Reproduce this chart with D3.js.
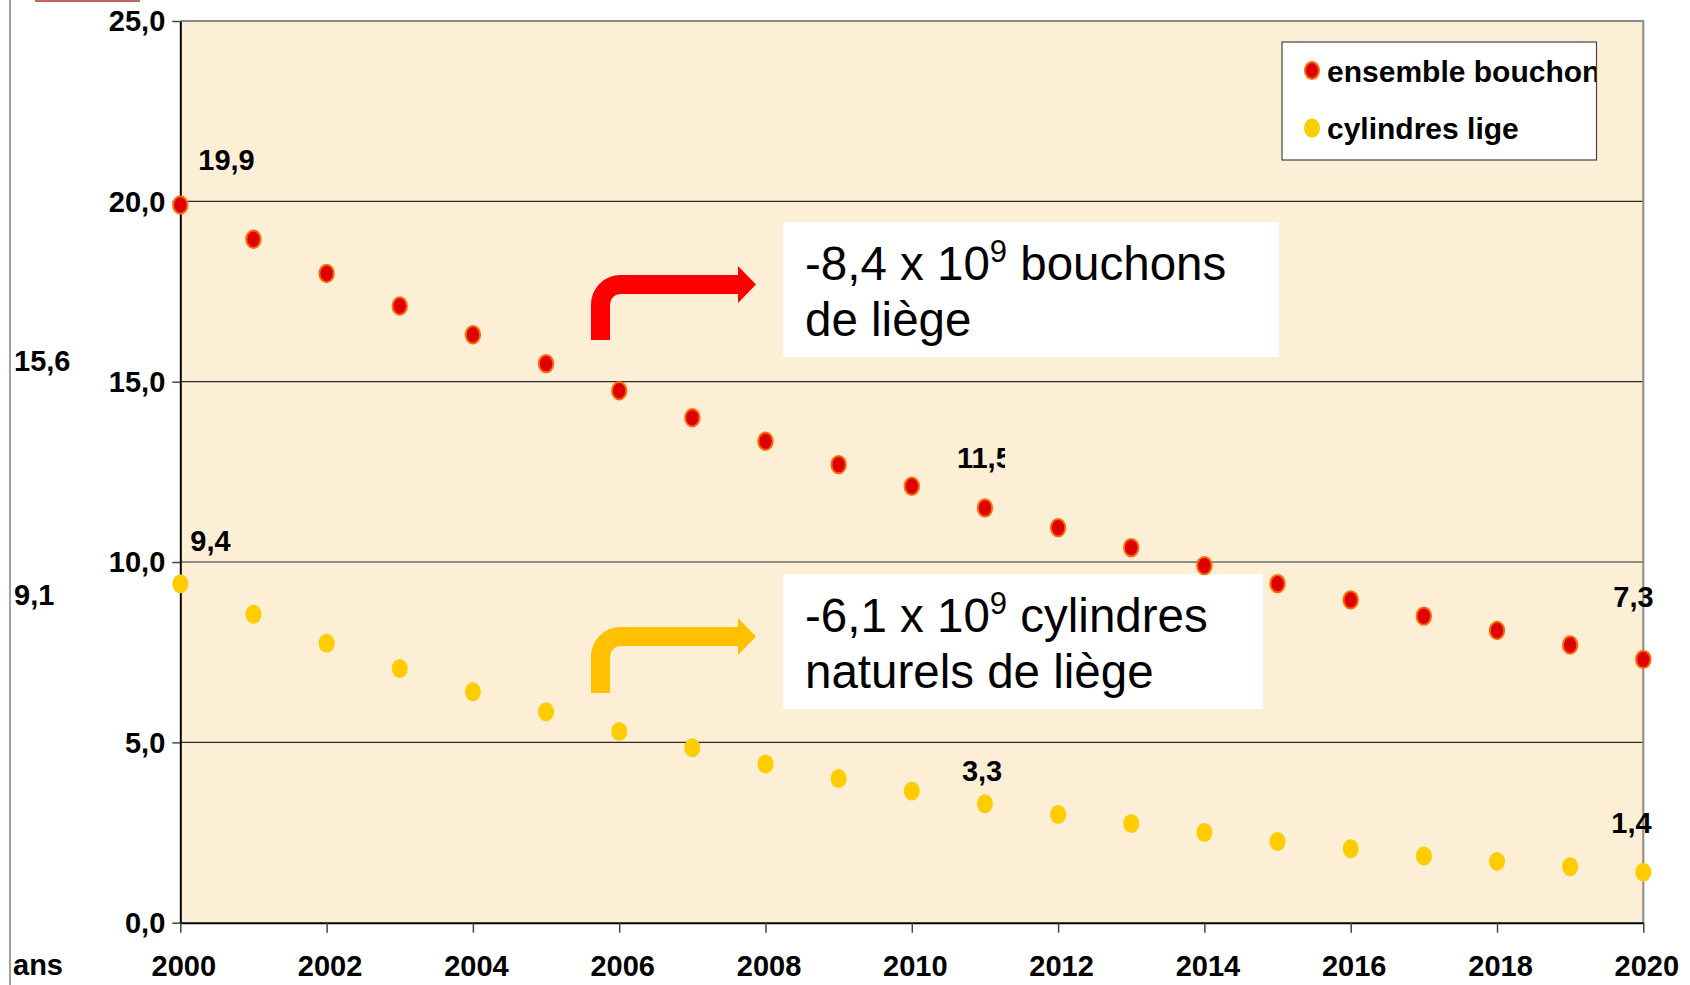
<!DOCTYPE html>
<html>
<head>
<meta charset="utf-8">
<script src="https://cdn.jsdelivr.net/npm/d3@7"></script>
<style>
  body { margin: 0; background: #fff; }
  svg { display: block; font-family: "Liberation Sans", Arial, sans-serif; }
  .bold { font-weight: bold; font-size: 29px; fill: #000; }
  .axis text { font-weight: bold; font-size: 29px; fill: #000; font-family: "Liberation Sans", Arial, sans-serif; }
  .box text { font-size: 47.5px; fill: #000; }
</style>
</head>
<body>
<svg width="1690" height="985"></svg>
<script>
// years on the x axis
var years = [2000, 2001, 2002, 2003, 2004, 2005, 2006, 2007, 2008, 2009, 2010,
             2011, 2012, 2013, 2014, 2015, 2016, 2017, 2018, 2019, 2020];

// ensemble bouchons (milliards)
var bouchons = [19.9, 18.95, 18.0, 17.1, 16.3, 15.5, 14.75, 14.0, 13.35, 12.7, 12.1,
                11.5, 10.95, 10.4, 9.9, 9.4, 8.95, 8.5, 8.1, 7.7, 7.3];

// cylindres naturels de liège (milliards)
var cylindres = [9.4, 8.55, 7.75, 7.05, 6.4, 5.85, 5.3, 4.85, 4.4, 4.0, 3.65,
                 3.3, 3.0, 2.75, 2.5, 2.25, 2.05, 1.85, 1.7, 1.55, 1.4];

var yTicks = [0, 5, 10, 15, 20, 25];
var xTicks = [2000, 2002, 2004, 2006, 2008, 2010, 2012, 2014, 2016, 2018, 2020];
var seriesNames = ["ensemble bouchons", "cylindres lige"];
var sideValues = [15.6, 9.1];

var fr = d3.formatLocale({decimal: ",", thousands: " ", grouping: [3], currency: ["", " €"]});
var fmt = fr.format(".1f");

var svg = d3.select("svg");

var x = d3.scaleLinear().domain([2000, 2020]).range([180.3, 1643.3]);
var y = d3.scaleLinear().domain([0, 25]).range([922.7, 21]);

var g = {
  frame: svg.append("g").attr("id", "frame"),
  plot: svg.append("g").attr("id", "plot"),
  axes: svg.append("g").attr("id", "axes"),
  notes: svg.append("g").attr("id", "notes"),
  points: svg.append("g").attr("id", "points"),
  labels: svg.append("g").attr("id", "labels"),
  legend: svg.append("g").attr("id", "legend")
};

// page frame bits
g.frame.append("line")
  .attr("x1", 10).attr("x2", 10).attr("y1", 0).attr("y2", 985)
  .style("stroke", "#808080").style("stroke-width", 1.5);
g.frame.append("rect")
  .attr("x", 35).attr("y", 0).attr("width", 105).attr("height", 2)
  .style("fill", "#c0675a");

// plot background
g.plot.append("rect")
  .attr("x", x(2000)).attr("y", y(25))
  .attr("width", x(2020) - x(2000)).attr("height", y(0) - y(25))
  .style("fill", "#fcefd6");

// gridlines
g.plot.selectAll("line.grid")
  .data(yTicks.filter(function(d) { return d > 0 && d < 25; }))
  .enter()
  .append("line")
  .attr("class", "grid")
  .attr("x1", x(2000)).attr("x2", x(2020))
  .attr("y1", function(d) { return y(d); })
  .attr("y2", function(d) { return y(d); })
  .style("stroke", "#2a2a2a").style("stroke-width", 1.2);

// top and right border
g.plot.append("path")
  .attr("d", "M" + x(2000) + "," + y(25) + "H" + x(2020) + "V" + y(0))
  .style("fill", "none").style("stroke", "#8a8a8a").style("stroke-width", 2);

// axes
var yAxis = d3.axisLeft(y).tickValues(yTicks).tickFormat(fmt)
  .tickSize(8).tickSizeOuter(0).tickPadding(7);
var xAxis = d3.axisBottom(x).tickValues(xTicks).tickFormat(d3.format("d"))
  .tickSize(10).tickSizeOuter(0).tickPadding(23);

var ya = g.axes.append("g").attr("class", "axis")
  .attr("transform", "translate(" + x(2000) + ",0)")
  .call(yAxis);
ya.selectAll("text").attr("dy", "0.34em");

var xa = g.axes.append("g").attr("class", "axis")
  .attr("transform", "translate(0," + y(0) + ")")
  .call(xAxis);
xa.selectAll("text").attr("dx", 3);

g.axes.selectAll(".domain").style("stroke", "#000").style("stroke-width", 2);
g.axes.selectAll(".tick line").style("stroke", "#444").style("stroke-width", 1.5);

// "ans" label
g.axes.append("text").attr("class", "bold")
  .attr("x", 13).attr("y", 975).text("ans");

// side values at the left margin
g.axes.selectAll("text.side")
  .data(sideValues)
  .enter()
  .append("text")
  .attr("class", "bold side")
  .attr("x", 14)
  .attr("y", function(d) { return y(d) + 11; })
  .text(function(d) { return fmt(d); });

// bent arrows
function drawArrow(color, yLine, yBottom) {
  var sx = 600.5, r = 20, hx = 738;
  var arrow = g.notes.append("g");
  arrow.append("path")
    .attr("d", "M" + sx + "," + yBottom + "V" + (yLine + r) +
      "A" + r + "," + r + " 0 0 1 " + (sx + r) + "," + yLine + "H" + (hx + 1))
    .style("fill", "none").style("stroke", color).style("stroke-width", 19);
  arrow.append("path")
    .attr("d", "M" + hx + "," + (yLine - 18.5) + "L756," + yLine + "L" + hx + "," + (yLine + 18.5) + "Z")
    .style("fill", color);
}
drawArrow("#ff0000", 284.5, 340);
drawArrow("#ffc000", 636.5, 693);

// text boxes
function drawBox(top, width, line1, line2) {
  var box = g.notes.append("g").attr("class", "box");
  box.append("rect")
    .attr("x", 783).attr("y", top).attr("width", width).attr("height", 135)
    .style("fill", "#fff");
  var t = box.append("text").attr("x", 805).attr("y", top + 58);
  t.append("tspan").text(line1);
  t.append("tspan").attr("dy", -18).style("font-size", "31px").text("9");
  t.append("tspan").attr("dy", 18).text(line2[0]);
  box.append("text").attr("x", 805).attr("y", top + 114).text(line2[1]);
}
drawBox(222, 496, "-8,4 x 10", [" bouchons", "de liège"]);
drawBox(574, 480, "-6,1 x 10", [" cylindres", "naturels de liège"]);

// points
g.points.selectAll("ellipse.red")
  .data(bouchons)
  .enter()
  .append("ellipse")
  .attr("class", "red")
  .attr("cx", function(d, i) { return x(years[i]); })
  .attr("cy", function(d) { return y(d); })
  .attr("rx", 7.2).attr("ry", 8.7)
  .style("fill", "#dd0000").style("stroke", "#ff6a00").style("stroke-width", 2);

g.points.selectAll("ellipse.yellow")
  .data(cylindres)
  .enter()
  .append("ellipse")
  .attr("class", "yellow")
  .attr("cx", function(d, i) { return x(years[i]); })
  .attr("cy", function(d) { return y(d); })
  .attr("rx", 8).attr("ry", 9.5)
  .style("fill", "#ffcc00");

// data labels: which point, and where its text sits relative to it
var labelSpots = [
  {s: bouchons, i: 0, dx: 18, dy: -35},
  {s: bouchons, i: 11, dx: -28, dy: -40, clip: 53},
  {s: bouchons, i: 20, dx: -30, dy: -52},
  {s: cylindres, i: 0, dx: 10, dy: -33},
  {s: cylindres, i: 11, dx: -23, dy: -23},
  {s: cylindres, i: 20, dx: -32, dy: -39}
];

var defs = svg.append("defs");
labelSpots.forEach(function(l, k) {
  var px = x(years[l.i]) + l.dx, py = l.s[l.i];
  var t = g.labels.append("text")
    .attr("class", "bold")
    .attr("x", px)
    .attr("y", y(py) + l.dy)
    .text(fmt(py));
  if (l.clip) {
    defs.append("clipPath").attr("id", "lc" + k)
      .append("rect").attr("x", px - 5).attr("y", y(py) + l.dy - 30)
      .attr("width", l.clip).attr("height", 40);
    t.attr("clip-path", "url(#lc" + k + ")");
  }
});

// legend
defs.append("clipPath").attr("id", "legclip")
  .append("rect").attr("x", 1282).attr("y", 42).attr("width", 314).attr("height", 118);

g.legend.append("rect")
  .attr("x", 1282).attr("y", 42).attr("width", 314.5).attr("height", 118)
  .style("fill", "#fff").style("stroke", "#444").style("stroke-width", 1.2);

var items = g.legend.selectAll("g.item")
  .data(seriesNames)
  .enter()
  .append("g")
  .attr("class", "item")
  .attr("clip-path", "url(#legclip)")
  .attr("transform", function(d, i) { return "translate(0," + (i * 57.5) + ")"; });

items.append("ellipse")
  .attr("cx", 1312).attr("cy", 70.5)
  .attr("rx", function(d, i) { return i === 0 ? 7 : 8; })
  .attr("ry", function(d, i) { return i === 0 ? 8.5 : 9.5; })
  .style("fill", function(d, i) { return i === 0 ? "#dd0000" : "#ffcc00"; })
  .style("stroke", function(d, i) { return i === 0 ? "#ff6a00" : "none"; })
  .style("stroke-width", 2);

items.append("text")
  .attr("class", "bold")
  .attr("x", 1327).attr("y", 81.5)
  .style("font-size", "30px")
  .text(function(d) { return d; });
</script>
</body>
</html>
